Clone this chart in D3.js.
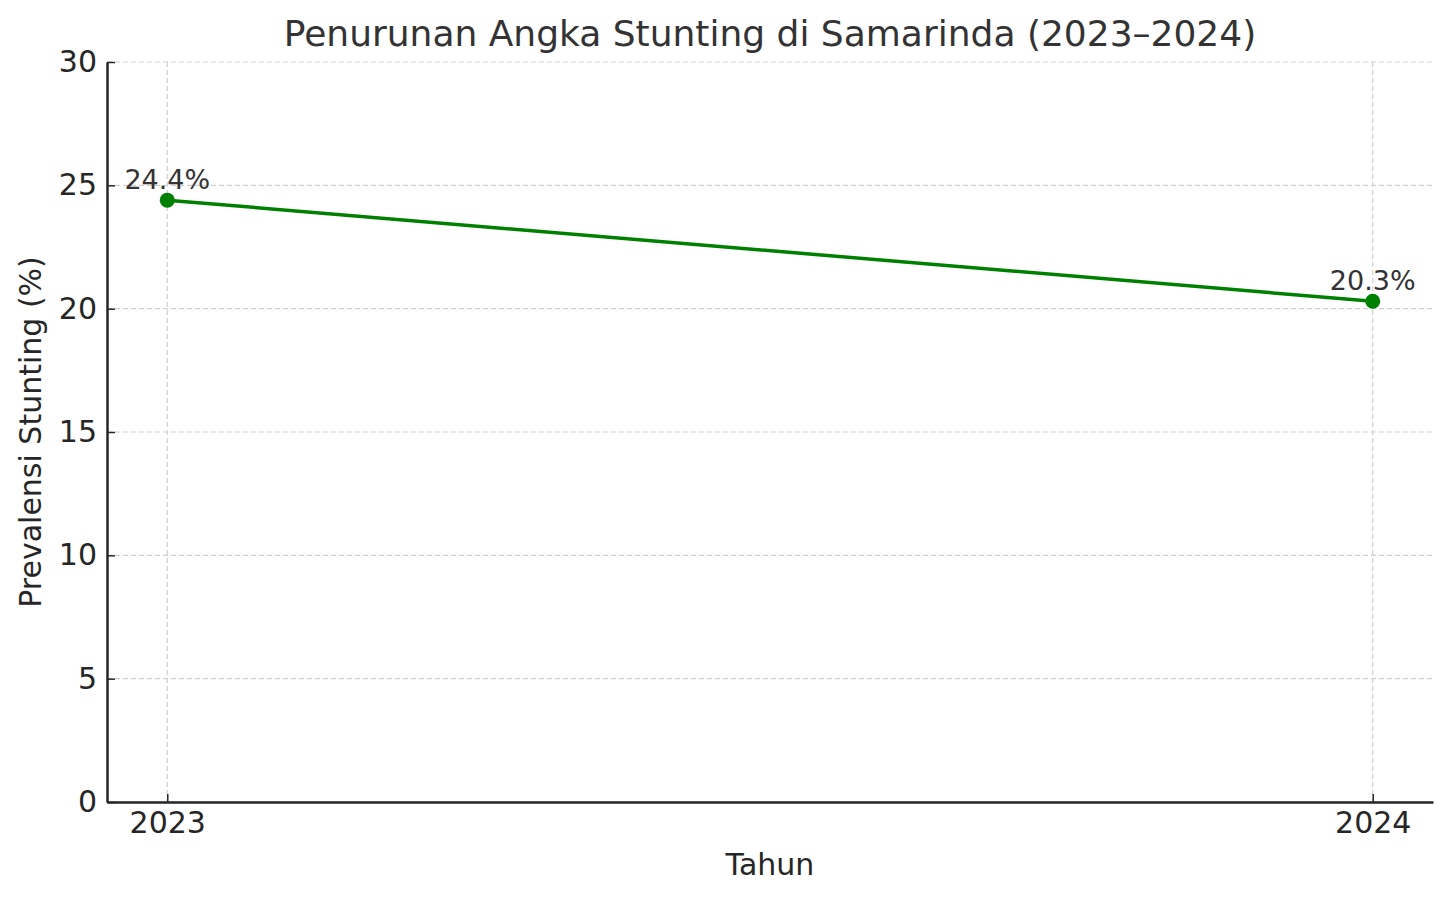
<!DOCTYPE html>
<html><head><meta charset="utf-8">
<script src="https://cdn.jsdelivr.net/npm/d3@7"></script>
<style>body{margin:0;background:#fff;} text{font-family:"DejaVu Sans",sans-serif;}</style>
</head><body><svg id="c" width="1451" height="900"></svg>
<script>
const years = [2023, 2024];
const prevalence = [24.4, 20.3];
const yTicks = [0, 5, 10, 15, 20, 25, 30];
const title = "Penurunan Angka Stunting di Samarinda (2023–2024)";
const xLabel = "Tahun";
const yLabel = "Prevalensi Stunting (%)";

const svg = d3.select("#c");
const L = 107, R = 1433, T = 62, B = 802;
const x = d3.scaleLinear().domain([2022.95, 2024.05]).range([L, R]);
const y = d3.scaleLinear().domain([0, 30]).range([B, T]);
const textCol = "#262626";

// grid
const g = svg.append("g");
g.selectAll(".hg").data(yTicks).join("line")
  .attr("x1", L).attr("x2", R).attr("y1", d => y(d)).attr("y2", d => y(d))
  .attr("stroke", "#d0d0d0").attr("stroke-width", 1.2).attr("stroke-dasharray", "5,3");
g.selectAll(".vg").data(years).join("line")
  .attr("x1", d => x(d)).attr("x2", d => x(d)).attr("y1", T).attr("y2", B)
  .attr("stroke", "#d0d0d0").attr("stroke-width", 1.2).attr("stroke-dasharray", "5,3");

// axes
const yAxis = d3.axisLeft(y).tickValues(yTicks).tickSizeInner(-8).tickSizeOuter(0).tickPadding(10);
const ya = svg.append("g").attr("transform", `translate(${L},0)`).call(yAxis);
const xAxis = d3.axisBottom(x).tickValues(years).tickFormat(d3.format("d")).tickSizeInner(-8).tickSizeOuter(0).tickPadding(10);
const xa = svg.append("g").attr("transform", `translate(0,${B})`).call(xAxis);
[ya, xa].forEach(a => {
  a.select(".domain").attr("stroke", textCol).attr("stroke-width", 2.5);
  a.selectAll(".tick line").attr("stroke", textCol).attr("stroke-width", 1.5);
  a.selectAll(".tick text").attr("fill", textCol).style("font-size", "30px").style("font-family", "DejaVu Sans");
});

// line
const data = years.map((yr, i) => ({yr, v: prevalence[i]}));
svg.append("path").datum(data)
  .attr("d", d3.line().x(d => x(d.yr)).y(d => y(d.v)))
  .attr("fill", "none").attr("stroke", "#008000").attr("stroke-width", 3.5);
svg.selectAll(".pt").data(data).join("circle")
  .attr("cx", d => x(d.yr)).attr("cy", d => y(d.v)).attr("r", 7.5).attr("fill", "#008000");
svg.selectAll(".lbl").data(data).join("text")
  .attr("x", d => x(d.yr)).attr("y", d => y(d.v) - 11)
  .attr("text-anchor", "middle").attr("fill", "#333").style("font-size", "27px")
  .text(d => d.v.toFixed(1) + "%");

// titles
svg.append("text").attr("x", (L + R) / 2).attr("y", 46).attr("text-anchor", "middle")
  .attr("fill", "#333").style("font-size", "36px").text(title);
svg.append("text").attr("x", (L + R) / 2).attr("y", 875).attr("text-anchor", "middle")
  .attr("fill", textCol).style("font-size", "30px").text(xLabel);
svg.append("text").attr("transform", `translate(41,${(T + B) / 2}) rotate(-90)`).attr("text-anchor", "middle")
  .attr("fill", textCol).style("font-size", "30px").text(yLabel);
</script></body></html>
